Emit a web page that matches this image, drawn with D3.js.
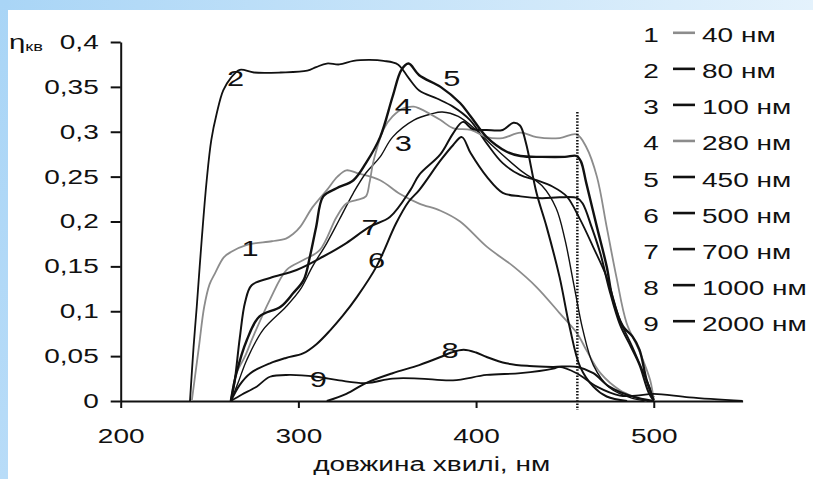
<!DOCTYPE html>
<html><head><meta charset="utf-8">
<script src="https://cdn.jsdelivr.net/npm/d3@7"></script>
<style>
body{margin:0;background:#fff;}
svg{display:block;}
text{font-family:"Liberation Sans",Arial,sans-serif;fill:#111;}
</style>
</head><body>
<svg id="c" width="813" height="479"></svg>
<script>
// ---------- data ----------
const legendNames = ["40 нм","80 нм","100 нм","280 нм","450 нм","500 нм","700 нм","1000 нм","2000 нм"];
const seriesIds = ["1","2","3","4","5","6","7","8","9"];
const xTicks = [200,300,400,500];
const yTicks = [0,0.05,0.1,0.15,0.2,0.25,0.3,0.35,0.4];
const xTitle = "довжина хвилі, нм";
const yTitleMain = "η";
const yTitleSub = "кв";

const s1 = [[240,0],[244,0.06],[247,0.105],[250,0.13],[253,0.142],[258,0.16],[262,0.166],[271,0.174],[285,0.178],[293,0.181],[297,0.186],[301,0.194],[308,0.216],[316,0.235],[322,0.25],[327,0.257],[333,0.254],[346,0.246],[357,0.231],[368,0.22],[380,0.212],[391,0.2],[406,0.172],[421,0.15],[434,0.127],[447,0.098],[457,0.075],[462,0.057],[470,0.031],[481,0.012],[490,0.004],[496,0]];
const s2 = [[239,0],[241,0.06],[242.8,0.105],[245.6,0.18],[248.4,0.246],[251,0.291],[254,0.32],[257.7,0.346],[262,0.36],[267,0.369],[275,0.366],[290,0.366],[305,0.368],[310,0.372],[316,0.376],[323,0.375],[331,0.379],[340,0.38],[348,0.379],[356,0.375],[362,0.36],[368,0.346],[378,0.337],[387,0.328],[396.6,0.313],[406,0.287],[415,0.265],[424.7,0.252],[434,0.246],[443,0.239],[451,0.228],[458.6,0.202],[465.8,0.172],[473.5,0.138],[481,0.09],[488,0.06],[496,0.023],[500,0.004]];
const s3 = [[262,0],[266,0.02],[271,0.046],[280,0.079],[293,0.105],[301,0.124],[308,0.15],[316,0.176],[323,0.202],[331,0.232],[338,0.254],[346,0.272],[353,0.294],[365,0.313],[375,0.32],[381,0.322],[390,0.317],[400,0.302],[410,0.283],[425,0.257],[437,0.24],[445,0.215],[450,0.18],[455,0.13],[460,0.08],[466,0.04],[475,0.015],[488,0.003],[497,0]];
const s4 = [[262,0],[265,0.03],[270,0.05],[274.6,0.072],[284,0.113],[293.4,0.146],[302.8,0.157],[312,0.168],[321.5,0.205],[327,0.22],[333,0.224],[338,0.228],[340,0.243],[342,0.265],[344,0.28],[348,0.303],[353,0.317],[359,0.326],[365,0.328],[368,0.326],[380,0.313],[387,0.304],[397,0.302],[406,0.294],[415,0.293],[425,0.299],[434,0.294],[447,0.293],[456.6,0.297],[462,0.283],[468,0.25],[473.5,0.194],[479,0.138],[484.7,0.087],[491.6,0.057],[498,0.023],[500,0]];
const s5 = [[262,0],[265,0.03],[271,0.068],[278,0.094],[290,0.105],[297,0.12],[303,0.135],[306.5,0.161],[310,0.194],[314,0.228],[321.5,0.237],[331,0.246],[338,0.265],[346,0.294],[353,0.339],[358,0.369],[362,0.376],[368,0.363],[380,0.35],[391,0.332],[397,0.317],[406,0.294],[417,0.278],[425,0.273],[437,0.272],[450,0.272],[456.6,0.273],[459,0.267],[462,0.243],[468,0.194],[473.5,0.15],[477,0.113],[482.7,0.083],[488,0.072],[492,0.057],[496,0.023],[500,0.001]];
const s6 = [[262,0],[267,0.018],[273,0.031],[284,0.042],[293,0.048],[302.6,0.053],[310,0.063],[318,0.079],[325,0.095],[333,0.116],[344,0.15],[355,0.198],[362,0.222],[368,0.235],[380,0.268],[387,0.285],[392,0.294],[397,0.276],[406,0.25],[415,0.232],[425,0.228],[437,0.226],[447,0.227],[457,0.226],[460,0.22],[465,0.194],[470,0.164],[475,0.124],[481,0.085],[487,0.061],[492,0.04],[497,0.01],[500,0]];
const s7 = [[262,0],[264,0.02],[267,0.07],[270,0.11],[273.7,0.129],[284,0.137],[299,0.146],[314,0.161],[327,0.176],[340,0.194],[351.5,0.205],[363,0.235],[368,0.252],[380,0.275],[387,0.298],[392.6,0.311],[398,0.303],[406,0.302],[415,0.302],[421,0.31],[424.7,0.307],[428,0.288],[434,0.232],[439.7,0.194],[447,0.138],[452.6,0.083],[458.6,0.038],[466,0.016],[473.5,0.005],[485,0]];
const s8 = [[316,0],[327,0.008],[338,0.02],[353,0.031],[368,0.04],[380,0.049],[386,0.054],[393,0.057],[400,0.054],[406,0.049],[417,0.042],[430,0.039],[443,0.038],[457,0.038],[466,0.031],[475,0.016],[488,0.005],[500,0]];
const s9 = [[262,0],[268,0.007],[276.5,0.016],[284,0.027],[295,0.029],[310,0.027],[323,0.023],[338,0.02],[353,0.025],[368,0.025],[387,0.023],[406,0.029],[425,0.031],[443.5,0.036],[447,0.038],[456.6,0.031],[468,0.016],[481,0.006],[490,0.006],[500,0.008],[520,0.004],[550,0]];
const allSeries = [s1,s2,s3,s4,s5,s6,s7,s8,s9];
const labelAt = [[272.8,0.170],[264.6,0.3596],[359,0.287],[359,0.329],[386.3,0.3595],[344,0.157],[340.3,0.194],[385.3,0.057],[311.2,0.025]];
const markerX = 457, markerTop = 0.322;

// ---------- styles ----------
const SX = 1.4;
const GRAY = "#8c8c8c", BLACK = "#111";
const colors = [GRAY,BLACK,BLACK,GRAY,BLACK,BLACK,BLACK,BLACK,BLACK];
const widths = [1.8,1.8,1.4,1.8,2.4,2.0,2.0,2.0,1.8];

const svg = d3.select("#c");
const W = 813, H = 479;

// frame
const defs = svg.append("defs");
const gT = defs.append("linearGradient").attr("id","gt").attr("x1","0").attr("x2","1").attr("y1","0").attr("y2","0");
gT.append("stop").attr("offset","0").attr("stop-color","#a9d5f6");
gT.append("stop").attr("offset","1").attr("stop-color","#e4f2fc");
const gL = defs.append("linearGradient").attr("id","gl").attr("x1","0").attr("x2","0").attr("y1","0").attr("y2","1");
gL.append("stop").attr("offset","0").attr("stop-color","#a9d5f6");
gL.append("stop").attr("offset","1").attr("stop-color","#b8dcf8");
svg.append("rect").attr("x",0).attr("y",0).attr("width",W).attr("height",H).attr("fill","#fff");
svg.append("rect").attr("x",0).attr("y",0).attr("width",W).attr("height",10).attr("fill","url(#gt)");
svg.append("rect").attr("x",0).attr("y",0).attr("width",8).attr("height",H).attr("fill","url(#gl)");

const x = d3.scaleLinear().domain([200,550]).range([120.7,742.6]);
const y = d3.scaleLinear().domain([0,0.4]).range([401,42]);

const fmt = d => String(d).replace(".", ",");

// axes
const yAxis = svg.append("g").attr("transform",`translate(${x(200)},0)`)
  .call(d3.axisLeft(y).tickValues(yTicks).tickSize(10).tickSizeOuter(0).tickPadding(12).tickFormat(fmt));
yAxis.selectAll("path,line").attr("stroke",BLACK).attr("stroke-width",2);
yAxis.selectAll("text").attr("font-size",20).attr("font-family","Liberation Sans, Arial, sans-serif").attr("fill",BLACK)
  .attr("transform",`scale(${SX},1)`).attr("x",-22/SX);

const xAxis = svg.append("g").attr("transform",`translate(0,${y(0)})`)
  .call(d3.axisBottom(x).tickValues(xTicks).tickSize(7).tickSizeOuter(0).tickPadding(21).tickFormat(d3.format("d")));
xAxis.selectAll("path,line").attr("stroke",BLACK).attr("stroke-width",2);
xAxis.selectAll(".tick text").attr("font-size",20).attr("font-family","Liberation Sans, Arial, sans-serif").attr("fill",BLACK)
  .attr("transform",`scale(${SX},1)`).attr("x",0);

function stext(sel, px, py, str, size, anchor){
  return sel.append("text").attr("transform",`translate(${px},${py}) scale(${SX},1)`)
    .attr("text-anchor",anchor).attr("font-size",size).text(str);
}

// axis titles
stext(svg, (x(200)+x(550))/2, 471, xTitle, 20, "middle");
const yt = svg.append("text").attr("transform",`translate(9,49) scale(${SX},1)`).attr("font-size",21);
yt.append("tspan").text(yTitleMain);
yt.append("tspan").attr("font-size",13).attr("dy",2).text(yTitleSub);

// curves
const line = d3.line().x(d=>x(d[0])).y(d=>y(d[1])).curve(d3.curveCatmullRom.alpha(0.5));
const plot = svg.append("g");
allSeries.forEach((s,i)=>{
  plot.append("path").attr("d",line(s)).attr("fill","none")
    .attr("stroke",colors[i]).attr("stroke-width",widths[i]).attr("stroke-linejoin","round");
});

// dotted marker
svg.append("line").attr("x1",x(markerX)).attr("x2",x(markerX)).attr("y1",y(markerTop)).attr("y2",y(0)+9)
  .attr("stroke",BLACK).attr("stroke-width",2.5).attr("stroke-dasharray","1.5,1.6");

// curve labels
labelAt.forEach((p,i)=>{
  stext(svg, x(p[0]), y(p[1])+8, seriesIds[i], 22, "middle");
});

// legend
const ly = d3.scalePoint().domain(seriesIds).range([42.3,330.7]);
seriesIds.forEach((id,i)=>{
  const by = ly(id);
  stext(svg, 651, by, id, 20, "middle");
  svg.append("line").attr("x1",673).attr("x2",695).attr("y1",by-9.5).attr("y2",by-9.5)
    .attr("stroke",colors[i]).attr("stroke-width",2.6);
  stext(svg, 702, by, legendNames[i], 20, "start");
});
</script>
</body></html>
